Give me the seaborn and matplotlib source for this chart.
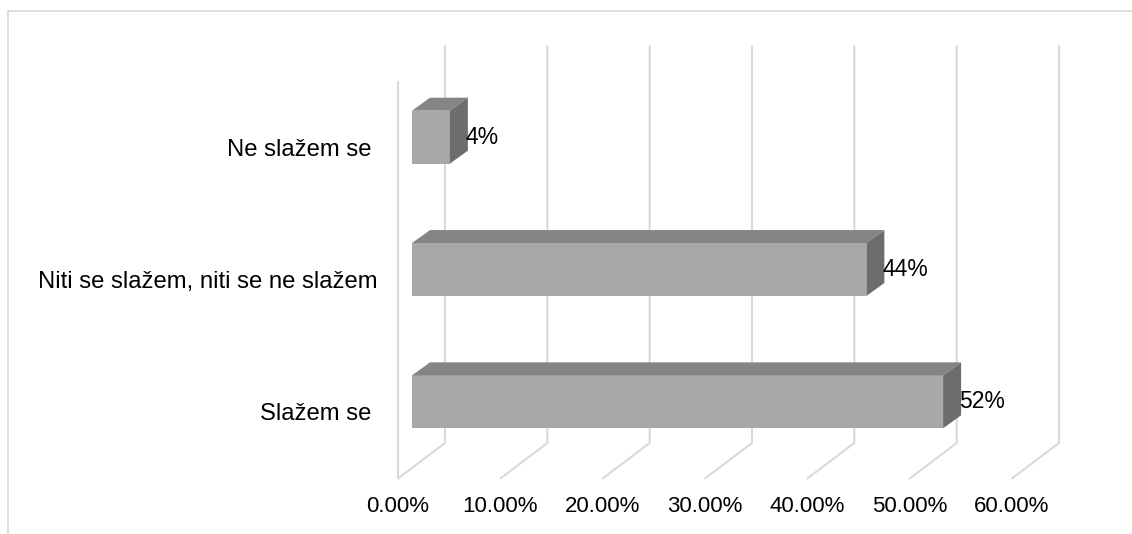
import matplotlib
matplotlib.use("Agg")
import matplotlib.pyplot as plt
import seaborn as sns
import pandas as pd
from matplotlib.patches import Polygon, Rectangle
from matplotlib.lines import Line2D

# ---- data ----
categories = ["Ne slažem se ", "Niti se slažem, niti se ne slažem", "Slažem se "]
values = [3.7, 44.4, 51.9]
value_labels = ["4%", "44%", "52%"]
tick_values = [0, 10, 20, 30, 40, 50, 60]
tick_labels = ["0.00%", "10.00%", "20.00%", "30.00%", "40.00%", "50.00%", "60.00%"]

# ---- style ----
W, H, DPI = 1132, 534, 100
sns.set_theme(style="white")
plt.rcParams['font.family'] = ['Liberation Sans', 'DejaVu Sans']
FS_CAT = 17.2
FS_TICK = 16
FS_VAL = 16.5
GRID = "#d9d9d9"
FRONT = "#a8a8a8"
TOP = "#858585"
SIDE = "#6d6d6d"

fig = plt.figure(figsize=(W / DPI, H / DPI), dpi=DPI)
fig.patch.set_facecolor("white")

# outer chart border (top and left visible)
fig.add_artist(Rectangle((8 / W, -0.2), 1.2, 1.2 + (1 - 11 / H) - 1.0,
                         transform=fig.transFigure, fill=False,
                         edgecolor=GRID, linewidth=1.2, clip_on=False))

left_px, right_px, top_px, bottom_px = 412, 1026, 71, 468
ax = fig.add_axes([left_px / W, 1 - bottom_px / H,
                   (right_px - left_px) / W, (bottom_px - top_px) / H])

df = pd.DataFrame({"cat": categories, "val": values})
sns.barplot(data=df, x="val", y="cat", orient="h", color=FRONT,
            saturation=1, width=0.4, ax=ax)
ax.set_xlim(0, 60)
ax.set_ylim(2.5, -0.5)

ux = 60 / (right_px - left_px)   # data units per pixel (x)
uy = 3 / (bottom_px - top_px)    # data units per pixel (y, + = down)


def off(x, y, dx, dy):
    return (x + dx * ux, y + dy * uy)


BACK = (33, -25)
FRONTW = (-14, 10.5)
DEPTH = (18, -13)

y0, y1 = ax.get_ylim()[1], ax.get_ylim()[0]   # -0.5 (top), 2.5 (bottom)
# back wall gridlines and floor diagonals
for t in tick_values:
    a = off(t, y0, *BACK)
    b = off(t, y1, *BACK)
    c = off(t, y1, *FRONTW)
    ax.add_line(Line2D([a[0], b[0], c[0]], [a[1], b[1], c[1]], color=GRID,
                       linewidth=1.5, zorder=1, clip_on=False))
# front-left wall edge
a = off(0, y0, *FRONTW)
b = off(0, y1, *FRONTW)
ax.add_line(Line2D([a[0], b[0]], [a[1], b[1]], color=GRID, linewidth=1.5,
                   zorder=1, clip_on=False))

# 3D faces of bars
for p in ax.patches:
    p.set_zorder(3)
    p.set_edgecolor("none")
    x0, yb = p.get_x(), p.get_y()
    w, h = p.get_width(), p.get_height()
    yt, ybot = yb, yb + h          # yt is top on screen (smaller data y)
    x1 = x0 + w
    top = [(x0, yt), (x1, yt), off(x1, yt, *DEPTH), off(x0, yt, *DEPTH)]
    side = [(x1, yt), off(x1, yt, *DEPTH), off(x1, ybot, *DEPTH), (x1, ybot)]
    ax.add_patch(Polygon(top, closed=True, facecolor=TOP, edgecolor="none",
                         zorder=3, clip_on=False))
    ax.add_patch(Polygon(side, closed=True, facecolor=SIDE, edgecolor="none",
                         zorder=3, clip_on=False))

ax.bar_label(ax.containers[0], labels=value_labels, padding=11.5,
             fontsize=FS_VAL, color="black")

# axis labels (front-wall aligned)
ax.set_xticks([])
ax.set_yticks([])
ax.set_xlabel("")
ax.set_ylabel("")
for t, lab in zip(tick_values, tick_labels):
    ax.annotate(lab, xy=(t, y1), xytext=(FRONTW[0], -39),
                textcoords="offset pixels", ha="center", va="center",
                fontsize=FS_TICK, color="black", annotation_clip=False)
for i, lab in enumerate(categories):
    ax.annotate(lab, xy=(0, i), xytext=(FRONTW[0] - 20, -FRONTW[1] - 2),
                textcoords="offset pixels", ha="right", va="center",
                fontsize=FS_CAT, color="black", annotation_clip=False)

for s in ax.spines.values():
    s.set_visible(False)
ax.set_facecolor("none")

fig.savefig("out.png", dpi=DPI, facecolor="white")
